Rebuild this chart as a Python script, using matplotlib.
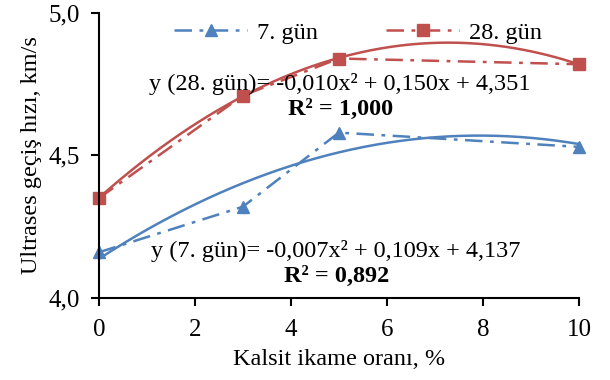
import numpy as np
import matplotlib.pyplot as plt

# --- data ---
oran = [0, 3, 5, 10]
gun7 = [4.16, 4.32, 4.58, 4.53]
gun28 = [4.35, 4.71, 4.84, 4.82]

x_ticks = [0, 2, 4, 6, 8, 10]
y_ticks = [4.0, 4.5, 5.0]
y_tick_labels = ['4,0', '4,5', '5,0']

eq28 = 'y (28. gün)= -0,010x² + 0,150x + 4,351'
r28 = 'R² = 1,000'
eq7 = 'y (7. gün)= -0,007x² + 0,109x + 4,137'
r7 = 'R² = 0,892'

blue = '#4F81BD'
red = '#C0504D'

plt.rcParams['font.family'] = ['Liberation Serif', 'DejaVu Serif']
FS = 17.5

fig = plt.figure(figsize=(6.1, 3.8), dpi=100)
ax = fig.add_axes([0.162, 0.216, 0.787, 0.75])

# 2nd order polynomial trendlines
xs = np.linspace(0, 10, 200)
ax.plot(xs, np.polyval(np.polyfit(oran, gun7, 2), xs), color=blue, lw=1.8)
ax.plot(xs, np.polyval(np.polyfit(oran, gun28, 2), xs), color=red, lw=1.8)

ax.plot(oran, gun7, color=blue, lw=1.8, ls=(0, (7, 3, 1.5, 3)),
        marker='^', ms=8, label='7. gün', clip_on=False)
ax.plot(oran, gun28, color=red, lw=1.8, ls=(0, (7, 3, 1.5, 3)),
        marker='s', ms=8, label='28. gün', clip_on=False)

ax.set_xlim(0, 10)
ax.set_ylim(4.0, 5.0)
ax.set_xticks(x_ticks)
ax.set_yticks(y_ticks)
ax.set_yticklabels(y_tick_labels)
ax.tick_params(labelsize=18, direction='out', length=6, width=1.5)
ax.tick_params(axis='y', pad=8)
ax.tick_params(axis='x', pad=9)
for s in ['top', 'right']:
    ax.spines[s].set_visible(False)
for s in ['left', 'bottom']:
    ax.spines[s].set_linewidth(1.5)

ax.set_xlabel('Kalsit ikame oranı, %', fontsize=FS, labelpad=6)
ax.set_ylabel('Ultrases geçiş hızı, km/s', fontsize=FS, labelpad=4)

ax.text(5.02, 4.75, eq28, fontsize=FS, ha='center', va='center')
ax.text(5.04, 4.66, r28, fontsize=FS, fontweight='bold', ha='center', va='center')
ax.text(4.93, 4.165, eq7, fontsize=FS, ha='center', va='center')
ax.text(4.96, 4.075, r7, fontsize=FS, fontweight='bold', ha='center', va='center')

ax.legend(loc='center', bbox_to_anchor=(0.54, 0.93), ncol=2, frameon=False,
          fontsize=FS, handlelength=3.0, columnspacing=2.8, handletextpad=0.4)

fig.savefig('out.png', dpi=100)
